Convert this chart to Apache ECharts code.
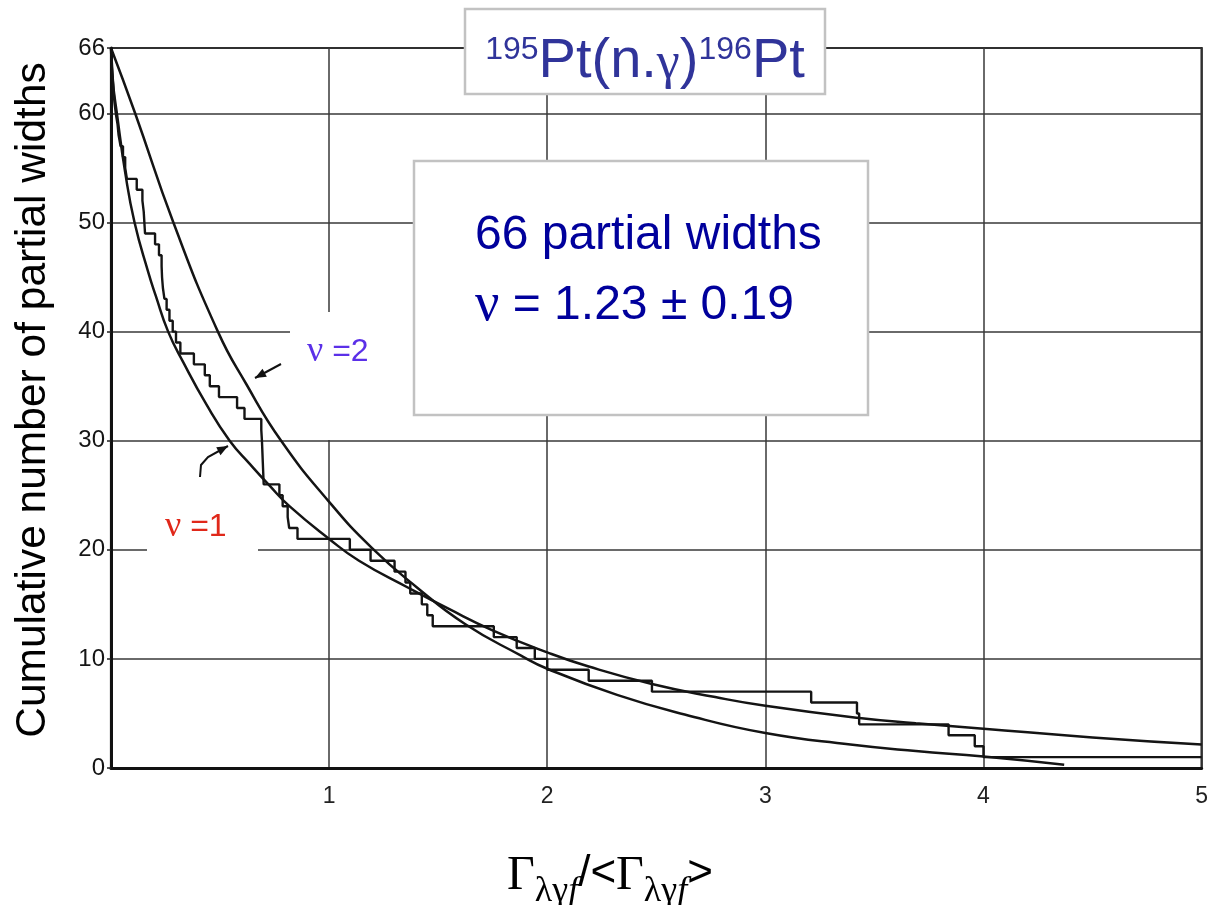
<!DOCTYPE html>
<html><head><meta charset="utf-8">
<script src="https://cdn.jsdelivr.net/npm/echarts@6/dist/echarts.min.js"></script>
<style>html,body{margin:0;padding:0;background:#fff}#c{width:1211px;height:905px}</style>
</head><body><div id="c"></div>
<script>
// ---- data ----
const yTicks = [0, 10, 20, 30, 40, 50, 60, 66];
const xTicks = [1, 2, 3, 4, 5];

// cumulative number of partial widths (histogram staircase): step positions and level after each step
const stairX = [0, 0.003, 0.006, 0.009, 0.012, 0.016, 0.022, 0.030, 0.035, 0.044, 0.055, 0.065, 0.073,
  0.118, 0.144, 0.150, 0.153, 0.156, 0.202, 0.220, 0.232, 0.234, 0.238, 0.245, 0.255, 0.268, 0.283, 0.298,
  0.318, 0.380, 0.430, 0.453, 0.495, 0.578, 0.612, 0.689, 0.692, 0.694, 0.696, 0.698, 0.700, 0.772, 0.787,
  0.810, 0.817, 0.855, 1.095, 1.190, 1.300, 1.350, 1.372, 1.425, 1.450, 1.475, 1.755, 1.860, 1.943, 2.000,
  2.190, 2.480, 3.210, 3.420, 3.430, 3.840, 3.960, 4.000, 5.000];
const stairY = [66, 65, 64, 63, 62, 61, 60, 59, 58, 57, 56, 55, 54,
  53, 52, 51, 50, 49, 48, 47, 46, 45, 44, 43, 42, 41, 40, 39,
  38, 37, 36, 35, 34, 33, 32, 31, 30, 29, 28, 27, 26, 25, 24,
  23, 22, 21, 20, 19, 18, 17, 16, 15, 14, 13, 12, 11, 10, 9,
  8, 7, 6, 5, 4, 3, 2, 1, 1];

// nu = 1 curve
const nu1X = [0, 0.008, 0.027, 0.065, 0.108, 0.170, 0.205, 0.262, 0.331, 0.438, 0.544, 0.635, 0.726, 0.818,
  1.000, 1.137, 1.365, 1.547, 1.752, 2.000, 2.190, 2.480, 2.770, 3.000, 3.420, 3.690, 4.000, 4.500, 5.000];
const nu1Y = [66, 63, 60, 54.6, 50, 45.5, 43.3, 40, 37.2, 33.3, 30, 27.9, 25.9, 24.0,
  21.0, 19.0, 16.5, 14.6, 12.6, 10.6, 9.3, 7.7, 6.5, 5.7, 4.6, 4.1, 3.6, 2.8, 2.15];

// nu = 2 curve
const nu2X = [0, 0.111, 0.286, 0.490, 0.620, 0.780, 1.000, 1.197, 1.400, 1.623, 1.880, 2.000, 2.320, 2.630,
  3.000, 3.390, 3.690, 4.000, 4.370];
const nu2Y = [66, 60, 50, 40, 35.2, 30, 24.4, 20.15, 16.6, 13.2, 10.3, 9.1, 6.7, 4.9,
  3.2, 2.15, 1.55, 1.05, 0.3];

// ---- chart ----
const zip = (xs, ys) => xs.map((x, i) => [x, ys[i]]);
const chart = echarts.init(document.getElementById('c'), null, {renderer: 'canvas'});

function arrowHead(tail, tip, len, half) {
  const dx = tip[0] - tail[0], dy = tip[1] - tail[1];
  const L = Math.hypot(dx, dy), ux = dx / L, uy = dy / L;
  const bx = tip[0] - ux * len, by = tip[1] - uy * len;
  return [tip, [bx - uy * half, by + ux * half], [bx + uy * half, by - ux * half]];
}

const arrow2 = [[281, 364], [255, 378]];
const arrow1 = [[200, 477], [201, 465], [208, 457], [228, 446]];

const titleColor = '#30349a';
const infoColor = '#00009c';
const inkColor = '#141414';

const option = {
  animation: false,
  backgroundColor: '#ffffff',
  grid: {left: 111, right: 2, top: 48, bottom: 137, show: true, borderColor: '#1a1a1a', borderWidth: 2.2,
    backgroundColor: 'transparent'},
  xAxis: {
    type: 'value', min: 0, max: 5, interval: 1,
    axisLine: {show: true, onZero: false, lineStyle: {color: '#111', width: 3}},
    axisTick: {show: false},
    axisLabel: {formatter: v => xTicks.includes(v) ? String(v) : '',
      fontFamily: '"Liberation Sans Narrow", "Liberation Sans"', fontSize: 23, color: '#222', margin: 17},
    splitLine: {show: true, lineStyle: {color: '#383838', width: 1.5}}
  },
  yAxis: {
    type: 'value', min: 0, max: 66, interval: 10,
    axisLine: {show: true, onZero: false, lineStyle: {color: '#111', width: 3}},
    axisTick: {show: true, length: 4, lineStyle: {color: '#222', width: 1.5}},
    axisLabel: {formatter: v => yTicks.includes(v) ? String(v) : '', fontFamily: 'Liberation Sans',
      fontSize: 24, color: '#151515', margin: 6},
    splitLine: {show: true, lineStyle: {color: '#383838', width: 1.5}}
  },
  series: [
    {type: 'line', name: 'histogram', data: zip(stairX, stairY), step: 'end', showSymbol: false,
      lineStyle: {color: inkColor, width: 2.4}, z: 3},
    {type: 'line', name: 'nu=1', data: zip(nu1X, nu1Y), smooth: 0.5, showSymbol: false,
      lineStyle: {color: inkColor, width: 2.5}, z: 3},
    {type: 'line', name: 'nu=2', data: zip(nu2X, nu2Y), smooth: 0.5, showSymbol: false,
      lineStyle: {color: inkColor, width: 2.5}, z: 3}
  ],
  graphic: {elements: [
    // white label patches over the grid
    {type: 'rect', z: 1, shape: {x: 290, y: 312, width: 125, height: 128}, style: {fill: '#fff'}},
    {type: 'rect', z: 1, shape: {x: 147, y: 500, width: 111, height: 58}, style: {fill: '#fff'}},
    // title box
    {type: 'rect', z: 10, shape: {x: 465, y: 9, width: 360, height: 85},
      style: {fill: '#fff', stroke: '#c2c2c2', lineWidth: 2.5}},
    {type: 'text', z: 11, x: 645, y: 34,
      style: {text: '{sup|195}{m|Pt(n.}{g|γ}{m|)}{sup|196}{m|Pt}', align: 'center', textAlign: 'center',
        verticalAlign: 'top', textVerticalAlign: 'top', fill: titleColor,
        rich: {
          sup: {fontSize: 32, fontFamily: 'Liberation Sans', fill: titleColor, lineHeight: 34, verticalAlign: 'top'},
          m: {fontSize: 56, fontFamily: 'Liberation Sans', fill: titleColor, lineHeight: 56, verticalAlign: 'bottom'},
          g: {fontSize: 52, fontFamily: 'Liberation Serif', fill: titleColor, lineHeight: 56, verticalAlign: 'bottom'}
        }}},
    // info box
    {type: 'rect', z: 10, shape: {x: 414, y: 161, width: 454, height: 254},
      style: {fill: '#fff', stroke: '#c2c2c2', lineWidth: 2.5}},
    {type: 'text', z: 11, x: 475, y: 236,
      style: {text: '66 partial widths', fontSize: 48, fontFamily: 'Liberation Sans', fill: infoColor,
        align: 'left', textAlign: 'left', verticalAlign: 'middle', textVerticalAlign: 'middle'}},
    {type: 'text', z: 11, x: 475, y: 306,
      style: {text: '{v|ν}{t| = 1.23 ± 0.19}', align: 'left', textAlign: 'left', verticalAlign: 'middle',
        textVerticalAlign: 'middle', fill: infoColor,
        rich: {v: {fontSize: 54, fontFamily: 'Liberation Serif', fill: infoColor},
               t: {fontSize: 48, fontFamily: 'Liberation Sans', fill: infoColor}}}},
    // curve labels
    {type: 'text', z: 11, x: 307, y: 352,
      style: {text: '{v|ν}{t| =2}', align: 'left', textAlign: 'left', verticalAlign: 'middle',
        textVerticalAlign: 'middle', fill: '#5b30e8',
        rich: {v: {fontSize: 36, fontFamily: 'Liberation Serif', fill: '#5b30e8'},
               t: {fontSize: 32, fontFamily: 'Liberation Sans', fill: '#5b30e8'}}}},
    {type: 'text', z: 11, x: 165, y: 527,
      style: {text: '{v|ν}{t| =1}', align: 'left', textAlign: 'left', verticalAlign: 'middle',
        textVerticalAlign: 'middle', fill: '#e0281a',
        rich: {v: {fontSize: 36, fontFamily: 'Liberation Serif', fill: '#e0281a'},
               t: {fontSize: 32, fontFamily: 'Liberation Sans', fill: '#e0281a'}}}},
    // arrows
    {type: 'polyline', z: 11, shape: {points: arrow2}, style: {stroke: '#111', lineWidth: 2, fill: null}},
    {type: 'polygon', z: 11, shape: {points: arrowHead(arrow2[0], arrow2[1], 11, 4.5)}, style: {fill: '#111'}},
    {type: 'polyline', z: 11, shape: {points: arrow1}, style: {stroke: '#111', lineWidth: 2, fill: null}},
    {type: 'polygon', z: 11, shape: {points: arrowHead(arrow1[2], arrow1[3], 11, 4.5)}, style: {fill: '#111'}},
    // axis titles
    {type: 'text', z: 11, x: 33, y: 400, rotation: Math.PI / 2,
      style: {text: 'Cumulative number of partial widths', fontSize: 42.5, fontFamily: 'Liberation Sans',
        fill: '#000', align: 'center', textAlign: 'center', verticalAlign: 'middle', textVerticalAlign: 'middle'}},
    {type: 'text', z: 11, x: 610, y: 852,
      style: {text: '{G|Γ}{s|λγ}{f|f}{n|/<}{G|Γ}{s|λγ}{f|f}{n|>}', align: 'center', textAlign: 'center',
        verticalAlign: 'top', textVerticalAlign: 'top', fill: '#000',
        rich: {
          G: {fontSize: 48, fontFamily: 'Liberation Serif', fill: '#000', lineHeight: 48, verticalAlign: 'top'},
          s: {fontSize: 36, fontFamily: 'Liberation Serif', fill: '#000', lineHeight: 36, padding: [22, 0, 0, 0], verticalAlign: 'top'},
          f: {fontSize: 36, fontFamily: 'Liberation Serif', fontStyle: 'italic', fill: '#000', lineHeight: 36, padding: [22, 0, 0, 0], verticalAlign: 'top'},
          n: {fontSize: 44, fontFamily: 'Liberation Sans', fill: '#000', lineHeight: 48, verticalAlign: 'top'}
        }}}
  ]}
};
chart.setOption(option);
</script>
</body></html>
